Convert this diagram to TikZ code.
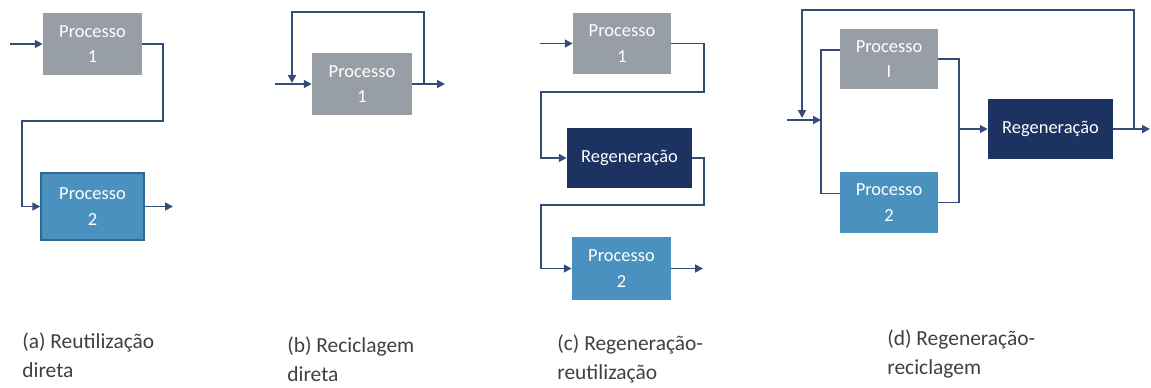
\documentclass[tikz,border=0pt]{standalone}
\usepackage{fontspec}
\setmainfont{Carlito}
\usetikzlibrary{arrows.meta,calc}

\definecolor{procgray}{HTML}{979EA6}
\definecolor{procblue}{HTML}{4A91BF}
\definecolor{procblueedge}{HTML}{2C6A93}
\definecolor{regennavy}{HTML}{1C3260}
\definecolor{flowline}{HTML}{354C77}
\definecolor{captiontext}{HTML}{404040}

\tikzset{
  box/.style={draw=none, text=white, align=center,
    font=\fontsize{10.5}{14.5}\selectfont, inner sep=0pt},
  procA/.style={box, fill=procgray, minimum width=1.98cm, minimum height=1.24cm},
  procB/.style={box, fill=procblue, minimum width=1.98cm, minimum height=1.24cm},
  regen/.style={box, fill=regennavy, minimum width=2.5cm, minimum height=1.2cm},
  flow/.style={draw=flowline, line width=1pt, line join=miter},
  arrow/.style={flow, -{Triangle[length=4.5pt,width=4.5pt]}},
  % the base anchor of a two-line caption sits on its second line
  caption/.style={anchor=base west, align=left, text=captiontext,
    font=\fontsize{12.2}{16}\selectfont, inner sep=0pt}
}

\begin{document}
\begin{tikzpicture}[x=0.02cm, y=-0.02cm]
\useasboundingbox (0,0) rectangle (1151,387);

% ---------- (a) direct reuse ----------
\node[procA] (a1) at (92.5,44) {Processo\\1};
\node[procB, draw=procblueedge, line width=0.8pt,
      minimum width=2.06cm, minimum height=1.34cm] (a2) at (92.5,206.5) {Processo\\2};
\coordinate (ain) at (10,44);
\coordinate (aout) at (173,206.5);
\coordinate (aR) at (163,121);
\coordinate (aL) at (22,121);
\draw[arrow] (ain) -- (a1.west);
\draw[arrow] (a1.east) -| (aR) -- (aL) |- (a2.west);
\draw[arrow] (a2.east) -- (aout);

% ---------- (b) direct recycling ----------
\node[procA, minimum width=2cm] (b1) at (362,84) {Processo\\1};
\coordinate (bin) at (275,84);
\coordinate (bout) at (445,84);
\coordinate (bTR) at (424,12);
\coordinate (bTL) at (292,12);
\draw[arrow] (bin) -- (b1.west);
\draw[arrow] (b1.east) -- (bout);
\draw[arrow] (b1.east -| bTR) -- (bTR) -- (bTL) -- ($(bTL |- b1.west)+(0,-1)$);

% ---------- (c) regeneration-reuse ----------
\node[procA, minimum width=1.96cm, minimum height=1.22cm] (c1) at (622,43.5) {Processo\\1};
\node[regen] (cg) at (629.5,158) {Regeneração};
\node[procB, minimum width=1.98cm, minimum height=1.26cm] (c2) at (621.5,268.5) {Processo\\2};
\coordinate (cin) at (540,43.5);
\coordinate (cout) at (703,268.5);
\coordinate (cR1) at (704,92);
\coordinate (cL1) at (541,92);
\coordinate (cR2) at (704,205);
\coordinate (cL2) at (541,205);
\draw[arrow] (cin) -- (c1.west);
\draw[arrow] (c1.east) -| (cR1) -- (cL1) |- (cg.west);
\draw[arrow] (cg.east) -| (cR2) -- (cL2) |- (c2.west);
\draw[arrow] (c2.east) -- (cout);

% ---------- (d) regeneration-recycling ----------
\node[procA, minimum width=1.96cm, minimum height=1.2cm] (d1) at (889,59) {Processo\\I};
\node[procB, minimum width=1.96cm, minimum height=1.22cm] (d2) at (889,202.5) {Processo\\2};
\node[regen] (dg) at (1050.5,129) {Regeneração};
\coordinate (din) at (787,120);
\coordinate (dsplit) at (821,120);
\coordinate (dm) at (959,129);
\coordinate (dout) at (1150,129);
\coordinate (dTR) at (1134,10);
\coordinate (dTL) at (802,10);
\draw[arrow] (din) -- (dsplit);
\draw[flow] ($(d1.west)+(0,-9)$) -| (dsplit) |- ($(d2.west)+(0,-9)$);
\draw[flow] (d1.east) -| (dm);
\draw[flow] (d2.east) -| (dm);
\draw[arrow] (dm) -- (dg.west);
\draw[arrow] (dg.east) -- (dout);
\draw[arrow] (dg.east -| dTR) -- (dTR) -- (dTL) -- ($(dTL |- din)+(0,-2)$);

% ---------- captions ----------
\node[caption] (capa) at (22,377) {(a) Reutilização\\direta};
\node[caption] (capb) at (287,381) {(b) Reciclagem\\direta};
\node[caption] (capc) at (557,379) {(c) Regeneração-\\reutilização};
\node[caption] (capd) at (887,374) {(d) Regeneração-\\reciclagem};
\end{tikzpicture}
\end{document}
